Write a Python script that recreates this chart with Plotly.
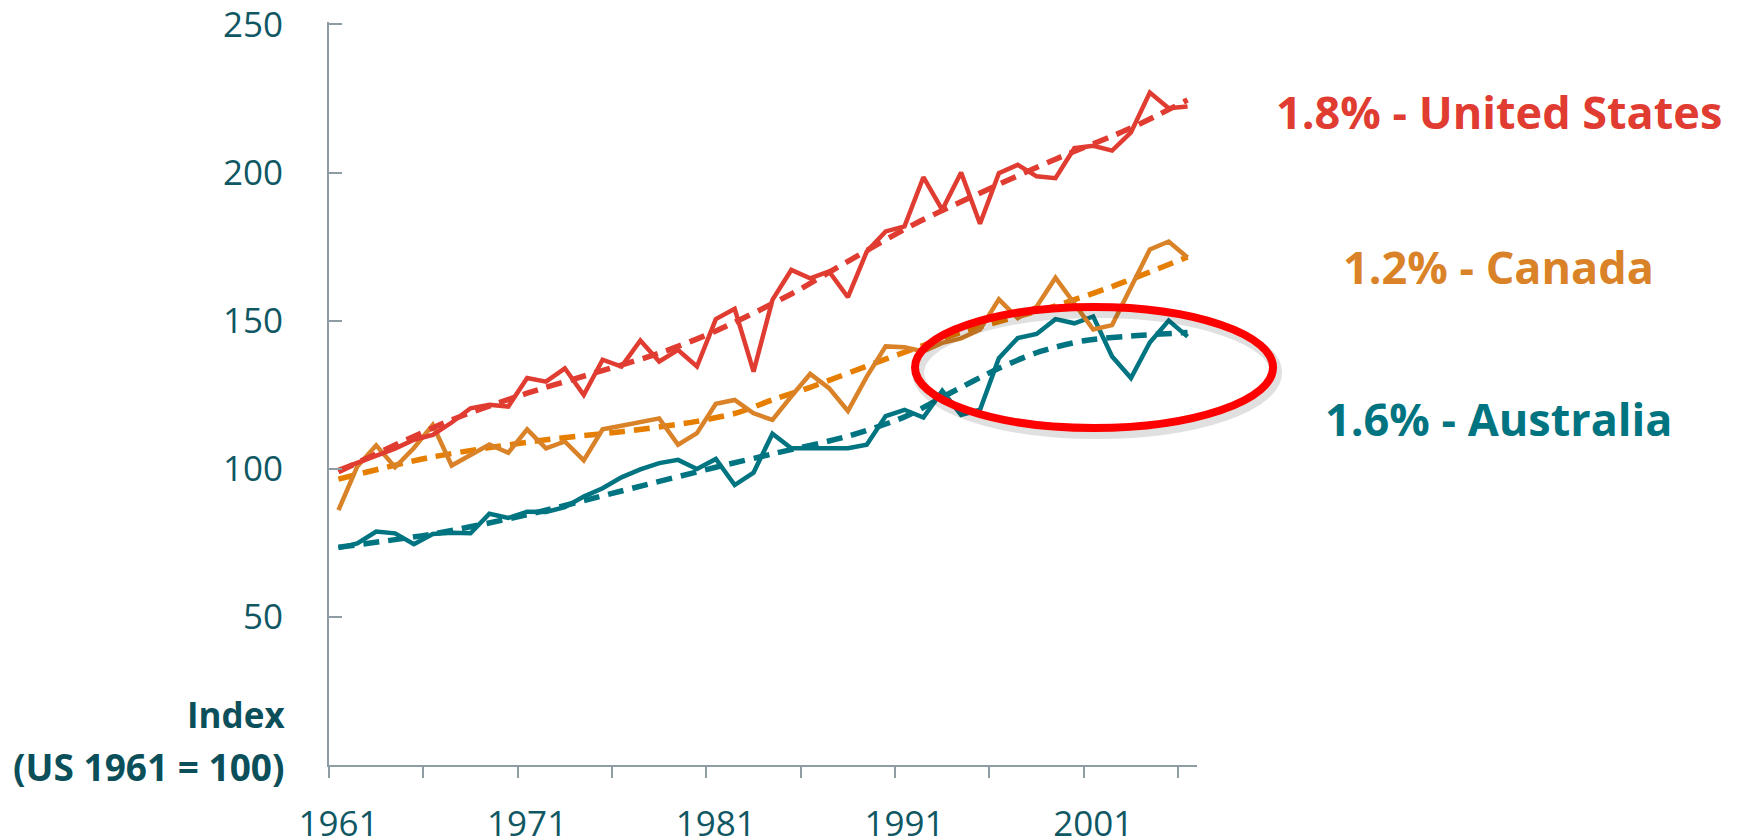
import plotly.graph_objects as go

years = list(range(1961, 2007))

us = [99.6, 102.0, 104.5, 106.8, 109.8, 111.4, 115.6, 120.4, 121.6, 121.0,
      130.6, 129.4, 133.9, 124.9, 136.8, 134.5, 143.3, 136.2, 140.1, 134.5,
      150.5, 154.0, 132.8, 157.0, 167.1, 164.3, 166.6, 157.9, 173.3, 180.1,
      181.8, 198.4, 187.4, 200.0, 182.7, 199.8, 202.6, 198.7, 198.1, 208.2,
      209.0, 207.4, 213.5, 227.0, 221.7, 222.3]

canada = [86.0, 100.8, 107.9, 100.5, 107.0, 114.8, 101.1, 104.6, 108.2, 105.4,
          113.3, 106.9, 109.2, 102.8, 113.3, 114.5, 115.6, 117.0, 108.1, 112.0,
          121.9, 123.2, 118.7, 116.5, 124.4, 132.0, 127.2, 119.5, 131.1, 141.3,
          141.0, 139.6, 142.5, 144.0, 147.0, 157.2, 150.8, 154.7, 164.5, 156.0,
          147.0, 148.5, 161.0, 174.0, 176.7, 171.3]

australia = [73.2, 74.8, 78.8, 78.2, 74.5, 78.0, 78.4, 78.2, 84.8, 83.4,
             85.5, 85.4, 87.0, 90.6, 93.4, 97.1, 99.8, 101.9, 103.0, 99.9,
             103.3, 94.5, 98.7, 111.8, 106.9, 106.9, 106.9, 106.9, 108.1, 117.8,
             119.9, 117.3, 126.3, 118.2, 119.9, 137.3, 144.1, 145.5, 150.5, 149.1,
             151.4, 137.9, 130.6, 142.6, 150.0, 144.6]

# trend lines (read at selected years)
us_trend_years = [1961, 1967, 1971, 1978, 1981, 1985, 1988, 1991.5, 1996, 1999, 2003, 2006]
us_trend = [99.0, 116.5, 125.5, 139.0, 146.5, 159.0, 170.0, 182.5, 196.0, 204.5, 215.0, 224.5]

ca_trend_years = [1961, 1966, 1972, 1976, 1980, 1982.2, 1984.1, 1986, 1990, 1994, 1999, 2002, 2006]
ca_trend = [96.5, 104.0, 109.8, 112.5, 116.0, 119.0, 123.5, 127.5, 137.0, 146.0, 155.0, 161.5, 171.5]

au_trend_years = [1961, 1966, 1971, 1976, 1981, 1984, 1988, 1991, 1993.4, 1996, 1998.2, 2000.6, 2003, 2006]
au_trend = [73.5, 78.0, 84.5, 92.5, 100.5, 105.0, 111.0, 117.5, 125.5, 133.9, 139.6, 143.3, 144.8, 146.0]

x_label_years = [1961, 1971, 1981, 1991, 2001]
x_tick_bounds = [1960.5 + 5 * j for j in range(10)]
y_ticks = [0, 50, 100, 150, 200, 250]
y_ticktext = ["", "50", "100", "150", "200", "250"]

labels = ["1.8% - United States", "1.2% - Canada", "1.6% - Australia"]

RED = "#E03C31"
ORANGE = "#D98228"
ORANGE_T = "#E67E00"
TEAL = "#007480"
AXIS = "#8E9CA4"
TXT = "#0F5863"
DARK = "#0B4F5A"
FONT = "Open Sans"
DASH = "16px,9px"

fig = go.Figure()

fig.add_trace(go.Scatter(x=au_trend_years, y=au_trend, mode="lines", line=dict(color=TEAL, width=5.5, dash=DASH, shape="spline", smoothing=0.8), showlegend=False))
fig.add_trace(go.Scatter(x=years, y=australia, mode="lines", line=dict(color=TEAL, width=4.5), showlegend=False))
fig.add_trace(go.Scatter(x=ca_trend_years, y=ca_trend, mode="lines", line=dict(color=ORANGE_T, width=5.5, dash=DASH, shape="spline", smoothing=0.8), showlegend=False))
fig.add_trace(go.Scatter(x=years, y=canada, mode="lines", line=dict(color=ORANGE, width=4.5), showlegend=False))
fig.add_trace(go.Scatter(x=us_trend_years, y=us_trend, mode="lines", line=dict(color=RED, width=5.5, dash=DASH, shape="spline", smoothing=0.8), showlegend=False))
fig.add_trace(go.Scatter(x=years, y=us, mode="lines", line=dict(color=RED, width=4.5), showlegend=False))
# invisible trace to activate the tick-mark axis
fig.add_trace(go.Scatter(x=[years[0]], y=[us[0]], xaxis="x2", mode="lines", line=dict(width=0), showlegend=False, hoverinfo="skip"))

# the page body has an 8px margin, so the plot area is shifted by 8px to land where the reference has it
fig.update_layout(
    width=1730, height=846,
    margin=dict(l=321, r=541, t=14, b=89),
    paper_bgcolor="white", plot_bgcolor="white",
    font=dict(family=FONT, color=TXT),
    xaxis=dict(range=[1960.5, 2006.5], tickvals=x_label_years, ticks="", showgrid=False, zeroline=False,
               showline=True, linecolor=AXIS, linewidth=2, tickfont=dict(size=35, color=TXT, family=FONT),
               ticklabelstandoff=27, ticklabeloverflow="allow", automargin=False),
    xaxis2=dict(range=[1960.5, 2006.5], overlaying="x", anchor="y", side="bottom", tickvals=x_tick_bounds,
                ticks="outside", ticklen=12, tickwidth=2, tickcolor=AXIS, showticklabels=False,
                showgrid=False, zeroline=False, showline=False, automargin=False),
    yaxis=dict(range=[0, 250.8], tickvals=y_ticks, ticktext=y_ticktext, ticks="inside", ticklen=13, tickwidth=2,
               tickcolor=AXIS, showgrid=False, zeroline=False, showline=True, linecolor=AXIS, linewidth=2,
               tickfont=dict(size=35, color=TXT, family=FONT), ticklabelstandoff=37, ticklabeloverflow="allow",
               automargin=False),
)

# ellipse with soft shadow
fig.add_shape(type="circle", xref="paper", yref="paper", x0=0.6786, x1=1.0911, y0=0.4469, y1=0.6097,
              line=dict(color="rgba(0,0,0,0.12)", width=12), layer="above")
fig.add_shape(type="circle", xref="paper", yref="paper", x0=0.6751, x1=1.0876, y0=0.4536, y1=0.6164,
              line=dict(color="#FF0000", width=8), layer="above")

label_colors = [RED, ORANGE, TEAL]
label_y = [0.8802, 0.6716, 0.4657]
for txt, c, yy in zip(labels, label_colors, label_y):
    fig.add_annotation(text=txt, xref="paper", yref="paper", x=1.3475, y=yy, xanchor="center", yanchor="middle",
                       showarrow=False, font=dict(family=FONT, size=45, color=c, weight="bold"))

fig.add_annotation(text="Index", xref="paper", yref="paper", x=-0.0484, y=0.0673, xanchor="right", yanchor="middle",
                   showarrow=False, font=dict(family=FONT, size=35, color=DARK, weight="bold"))
fig.add_annotation(text="(US 1961 = 100)", xref="paper", yref="paper", x=-0.0484, y=-0.002, xanchor="right",
                   yanchor="middle", showarrow=False, font=dict(family=FONT, size=37, color=DARK, weight="bold"))

fig.write_html("out.html")
